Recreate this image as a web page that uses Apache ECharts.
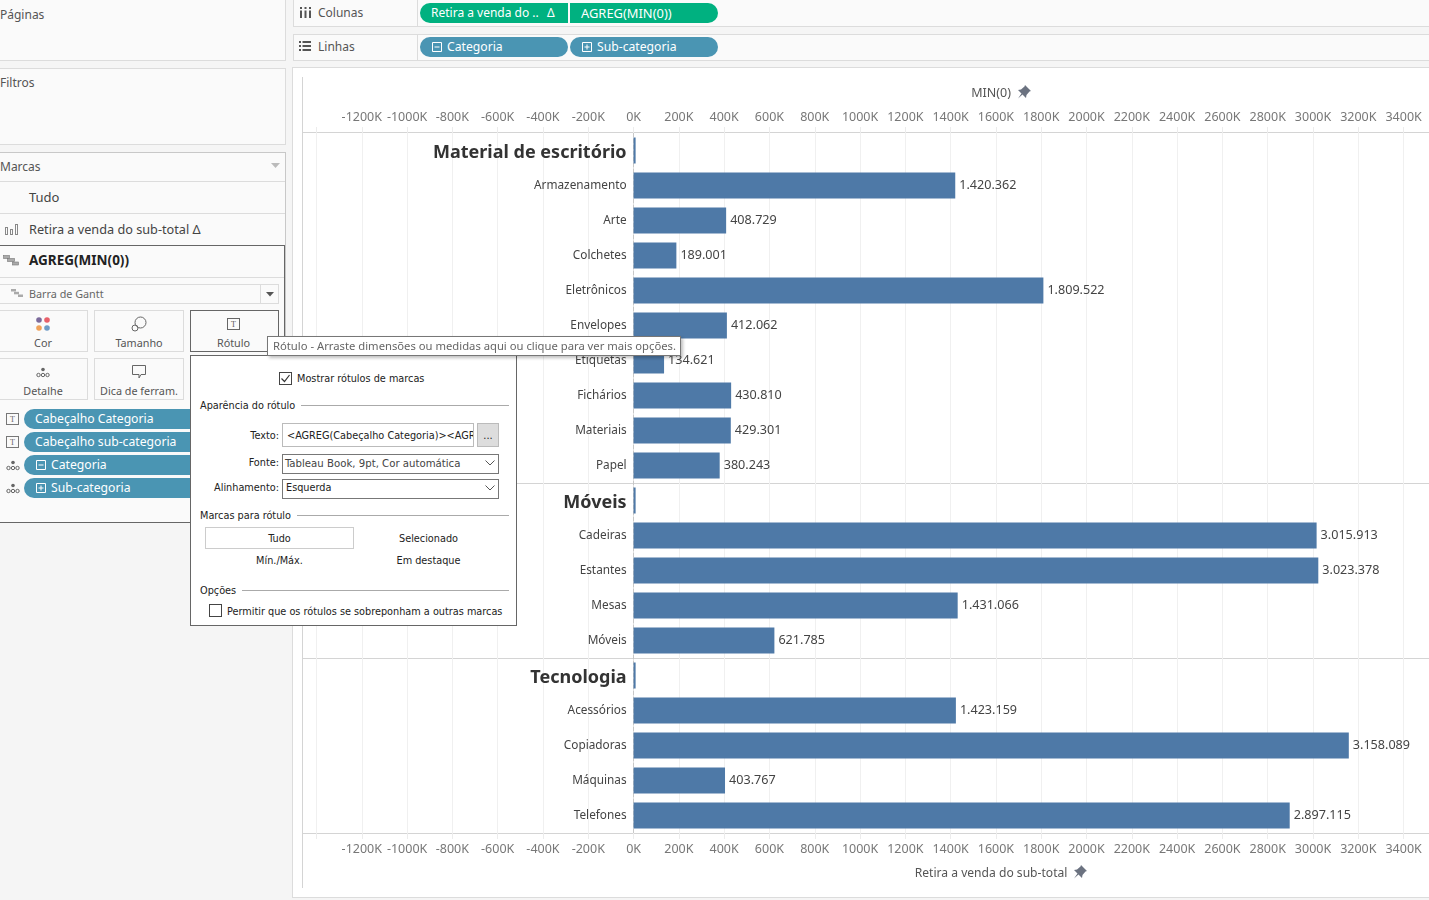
<!DOCTYPE html>
<html>
<head>
<meta charset="utf-8">
<style>
  html, body { margin: 0; padding: 0; width: 1429px; height: 900px; overflow: hidden; background: #f5f5f5; }
  body { font-family: "Noto Sans", sans-serif; font-size: 12px; color: #555; position: relative; }
  .box, .t, .pill, .ln, svg.ic { position: absolute; box-sizing: border-box; }
  .box { background: #fafafa; border: 1px solid #dcdcdc; }
  .t { white-space: nowrap; line-height: 16px; height: 16px; }
  .ln { background: #dcdcdc; }
  .pill { background: #4a95b3; color: #fff; height: 20px; line-height: 20px; border-radius: 10px; white-space: nowrap; font-size: 12.2px; padding-left: 11px; }
  .green { background: #00b180; }
  .card { font-size: 10.8px; text-align: center; }
  .dlg { font-family: "DejaVu Sans Condensed", sans-serif; font-size: 10.8px; color: #222; }
  #main { position: absolute; left: 0; top: 0; width: 1429px; height: 900px; z-index: 2; }
  #over { position: absolute; left: 0; top: 0; width: 1429px; height: 900px; z-index: 3; }
</style>
<script src="https://cdn.jsdelivr.net/npm/echarts@6/dist/echarts.min.js"></script>
</head>
<body>

<!-- shelves and left cards -->
<div class="box" style="left:-2px;top:-2px;width:288px;height:63px"></div>
<div class="box" style="left:-2px;top:68px;width:288px;height:77px"></div>
<div class="box" style="left:-2px;top:152px;width:288px;height:371px;border-color:#c8c8c8"></div>
<div class="t" style="left:0;top:7px">Páginas</div>
<div class="t" style="left:0;top:75px">Filtros</div>
<div class="t" style="left:0;top:159px">Marcas</div>
<svg class="ic" style="left:271px;top:163px" width="9" height="6"><path d="M0 0H9L4.5 5z" fill="#bbb"/></svg>
<div class="ln" style="left:0;top:181px;width:285px;height:1px"></div>
<div class="t" style="left:29px;top:189px;font-size:13px;color:#444">Tudo</div>
<div class="ln" style="left:0;top:213px;width:285px;height:1px"></div>
<svg class="ic" style="left:5px;top:224px" width="13" height="11"><g fill="none" stroke="#888"><rect x=".5" y="3.5" width="2" height="7"/><rect x="5.5" y="5.5" width="2" height="5"/><rect x="10.5" y=".5" width="2" height="10"/></g></svg>
<div class="t" style="left:29px;top:221px;font-size:12.7px;color:#444">Retira a venda do sub-total Δ</div>
<div class="box" style="left:-2px;top:245px;width:287px;height:278px;border:1px solid #666"></div>
<svg class="ic" style="left:3px;top:255px" width="16" height="11"><g fill="#aaa" stroke="#777" stroke-width=".6"><rect x=".5" y=".5" width="6" height="3"/><rect x="4.5" y="3.5" width="7" height="3"/><rect x="9.5" y="7" width="6" height="3"/></g></svg>
<div class="t" style="left:29px;top:252px;font-size:13.5px;font-weight:700;color:#222">AGREG(MIN(0))</div>
<div class="ln" style="left:0;top:277px;width:284px;height:1px"></div>
<div class="box" style="left:-2px;top:284px;width:281px;height:20px"></div>
<div class="ln" style="left:260px;top:285px;width:1px;height:18px"></div>
<svg class="ic" style="left:11px;top:289px" width="12" height="8"><g fill="#aaa"><rect x="0" y="0" width="5" height="2.5"/><rect x="3" y="2.8" width="5" height="2.5"/><rect x="7" y="5.5" width="5" height="2.5"/></g></svg>
<div class="t" style="left:29px;top:286px;font-size:10.8px;color:#666">Barra de Gantt</div>
<svg class="ic" style="left:266px;top:292px" width="8" height="5"><path d="M0 0H8L4 4.5z" fill="#555"/></svg>

<!-- mark cards -->
<div class="box" style="left:-2px;top:310px;width:90px;height:42px"></div>
<div class="box" style="left:94px;top:310px;width:90px;height:42px"></div>
<div class="box" style="left:190px;top:310px;width:89px;height:42px;border-color:#666"></div>
<div class="box" style="left:-2px;top:358px;width:90px;height:42px"></div>
<div class="box" style="left:94px;top:358px;width:90px;height:42px"></div>
<svg class="ic" style="left:36px;top:317px" width="15" height="15"><circle cx="3" cy="3" r="2.8" fill="#7b6a9b"/><circle cx="11" cy="3" r="2.8" fill="#e8606a"/><circle cx="3" cy="11" r="2.8" fill="#f0a25a"/><circle cx="11" cy="11" r="2.8" fill="#6f9cc7"/></svg>
<svg class="ic" style="left:131px;top:316px" width="16" height="16"><g fill="none" stroke="#666"><circle cx="9.5" cy="6.5" r="5.5"/><circle cx="4" cy="12" r="3"/></g></svg>
<svg class="ic" style="left:227px;top:318px" width="13" height="12"><rect x=".5" y=".5" width="12" height="11" fill="none" stroke="#666"/><text x="6.5" y="9" font-size="8" text-anchor="middle" fill="#555" font-family="Liberation Serif">T</text></svg>
<svg class="ic" style="left:36px;top:367px" width="14" height="11"><g fill="none" stroke="#666"><circle cx="2.5" cy="8" r="1.7"/><circle cx="7" cy="8" r="1.7"/><circle cx="11.5" cy="8" r="1.7"/></g><circle cx="7" cy="2.5" r="1.8" fill="#666"/></svg>
<svg class="ic" style="left:132px;top:365px" width="15" height="15"><path d="M.5 .5H13.5V9.5H9L7 13V9.5H.5z" fill="none" stroke="#666"/></svg>
<div class="t card" style="left:0;top:335px;width:86px">Cor</div>
<div class="t card" style="left:94px;top:335px;width:90px">Tamanho</div>
<div class="t card" style="left:190px;top:335px;width:87px">Rótulo</div>
<div class="t card" style="left:0;top:383px;width:86px">Detalhe</div>
<div class="t card" style="left:94px;top:383px;width:90px">Dica de ferram.</div>

<!-- encoding pills -->
<svg class="ic" style="left:6px;top:413px" width="13" height="12"><rect x=".5" y=".5" width="12" height="11" fill="none" stroke="#777"/><text x="6.5" y="9" font-size="8" text-anchor="middle" fill="#666" font-family="Liberation Serif">T</text></svg>
<svg class="ic" style="left:6px;top:436px" width="13" height="12"><rect x=".5" y=".5" width="12" height="11" fill="none" stroke="#777"/><text x="6.5" y="9" font-size="8" text-anchor="middle" fill="#666" font-family="Liberation Serif">T</text></svg>
<svg class="ic" style="left:6px;top:460px" width="14" height="11"><g fill="none" stroke="#666"><circle cx="2.5" cy="8" r="1.7"/><circle cx="7" cy="8" r="1.7"/><circle cx="11.5" cy="8" r="1.7"/></g><circle cx="7" cy="2.5" r="1.8" fill="#666"/></svg>
<svg class="ic" style="left:6px;top:483px" width="14" height="11"><g fill="none" stroke="#666"><circle cx="2.5" cy="8" r="1.7"/><circle cx="7" cy="8" r="1.7"/><circle cx="11.5" cy="8" r="1.7"/></g><circle cx="7" cy="2.5" r="1.8" fill="#666"/></svg>
<div class="pill" style="left:24px;top:409px;width:180px">Cabeçalho Categoria</div>
<div class="pill" style="left:24px;top:432px;width:180px">Cabeçalho sub-categoria</div>
<div class="pill" style="left:24px;top:455px;width:180px;padding-left:27px">Categoria<svg class="ic" style="left:12px;top:5px" width="10" height="10"><path d="M.5 .5H9.5V9.5H.5zM2.5 5H7.5" fill="none" stroke="#fff"/></svg></div>
<div class="pill" style="left:24px;top:478px;width:180px;padding-left:27px">Sub-categoria<svg class="ic" style="left:12px;top:5px" width="10" height="10"><path d="M.5 .5H9.5V9.5H.5zM2.5 5H7.5M5 2.5V7.5" fill="none" stroke="#fff"/></svg></div>

<!-- Colunas / Linhas shelves -->
<div class="box" style="left:293px;top:-2px;width:1140px;height:29px"></div>
<div class="box" style="left:293px;top:34px;width:1140px;height:27px"></div>
<div class="ln" style="left:417px;top:0;width:1px;height:26px"></div>
<div class="ln" style="left:417px;top:35px;width:1px;height:25px"></div>
<svg class="ic" style="left:300px;top:7px" width="11" height="11"><path d="M0 0H2V2H0zM4.5 0H6.5V2H4.5zM9 0H11V2H9zM0 3.5H2V11H0zM4.5 3.5H6.5V11H4.5zM9 3.5H11V11H9z" fill="#555"/></svg>
<svg class="ic" style="left:299px;top:41px" width="12" height="10"><path d="M0 0H2V2H0zM3.5 0H12V2H3.5zM0 4H2V6H0zM3.5 4H12V6H3.5zM0 8H2V10H0zM3.5 8H12V10H3.5z" fill="#555"/></svg>
<div class="t" style="left:318px;top:5px">Colunas</div>
<div class="t" style="left:318px;top:39px">Linhas</div>
<div class="pill green" style="left:420px;top:3px;width:148px;border-radius:10px 0 0 10px;font-size:12px">Retira a venda do ..<span style="position:absolute;left:127px">Δ</span></div>
<div class="pill green" style="left:570px;top:3px;width:148px;border-radius:0 10px 10px 0;font-size:12.9px">AGREG(MIN(0))</div>
<div class="pill" style="left:420px;top:37px;width:148px;padding-left:27px">Categoria<svg class="ic" style="left:12px;top:5px" width="10" height="10"><path d="M.5 .5H9.5V9.5H.5zM2.5 5H7.5" fill="none" stroke="#fff"/></svg></div>
<div class="pill" style="left:570px;top:37px;width:148px;padding-left:27px">Sub-categoria<svg class="ic" style="left:12px;top:5px" width="10" height="10"><path d="M.5 .5H9.5V9.5H.5zM2.5 5H7.5M5 2.5V7.5" fill="none" stroke="#fff"/></svg></div>

<!-- view card, pane lines -->
<div class="box" style="left:292px;top:67px;width:1140px;height:831px;background:#fff"></div>
<div class="ln" style="left:302px;top:77px;width:1px;height:811px;background:#d4d4d4"></div>
<div class="ln" style="left:303px;top:132px;width:1126px;height:1px;background:#d4d4d4"></div>
<div class="ln" style="left:303px;top:483px;width:1126px;height:1px;background:#d4d4d4"></div>
<div class="ln" style="left:303px;top:658px;width:1126px;height:1px;background:#d4d4d4"></div>
<div class="ln" style="left:303px;top:833px;width:1126px;height:1px;background:#d4d4d4"></div>

<div id="main"></div>

<div id="over">
  <svg class="ic" style="left:1017px;top:85px" width="14" height="14"><path d="M8 0L14 6L12.5 6.5L9.5 10L9 13L5.5 9.5L1 13.5L4.5 8.5L1 5L4 4.5L7.5 1.5z" fill="#6b7280"/></svg>
  <svg class="ic" style="left:1073px;top:865px" width="14" height="14"><path d="M8 0L14 6L12.5 6.5L9.5 10L9 13L5.5 9.5L1 13.5L4.5 8.5L1 5L4 4.5L7.5 1.5z" fill="#6b7280"/></svg>

  <!-- label dialog -->
  <div class="box dlg" style="left:190px;top:355px;width:327px;height:271px;background:#fff;border-color:#666"></div>
  <div class="dlg">
    <div class="box" style="left:279px;top:372px;width:13px;height:13px;background:#fff;border-color:#444"></div>
    <svg class="ic" style="left:280px;top:373px" width="11" height="11"><path d="M1.5 5.5L4.5 8.5L9.5 2" fill="none" stroke="#333" stroke-width="1.2"/></svg>
    <div class="t" style="left:297px;top:371px">Mostrar rótulos de marcas</div>
    <div class="t" style="left:200px;top:398px">Aparência do rótulo</div>
    <div class="ln" style="left:301px;top:405px;width:208px;height:1px;background:#aaa"></div>
    <div class="t" style="left:190px;top:428px;width:89px;text-align:right">Texto:</div>
    <div class="box" style="left:282px;top:423px;width:192px;height:24px;background:#fff;border-color:#bbb;overflow:hidden">
      <div class="t" style="left:4px;top:4px">&lt;AGREG(Cabeçalho Categoria)&gt;&lt;AGR</div>
    </div>
    <div class="box" style="left:477px;top:423px;width:22px;height:24px;background:#ddd;border-color:#bbb"></div>
    <div class="t" style="left:477px;top:428px;width:22px;text-align:center">...</div>
    <div class="t" style="left:190px;top:455px;width:89px;text-align:right">Fonte:</div>
    <div class="box" style="left:282px;top:454px;width:217px;height:20px;background:#fff;border-color:#777"></div>
    <div class="t" style="left:285px;top:456px;color:#444;font-size:11.3px">Tableau Book, 9pt, Cor automática</div>
    <svg class="ic" style="left:485px;top:460px" width="10" height="7"><path d="M.5 .5L5 5L9.5 .5" fill="none" stroke="#555"/></svg>
    <div class="t" style="left:190px;top:480px;width:89px;text-align:right">Alinhamento:</div>
    <div class="box" style="left:282px;top:479px;width:217px;height:20px;background:#fff;border-color:#777"></div>
    <div class="t" style="left:286px;top:480px">Esquerda</div>
    <svg class="ic" style="left:485px;top:485px" width="10" height="7"><path d="M.5 .5L5 5L9.5 .5" fill="none" stroke="#555"/></svg>
    <div class="t" style="left:200px;top:508px">Marcas para rótulo</div>
    <div class="ln" style="left:297px;top:515px;width:212px;height:1px;background:#aaa"></div>
    <div class="box" style="left:205px;top:527px;width:149px;height:22px;background:#fff;border-color:#ccc"></div>
    <div class="t" style="left:205px;top:531px;width:149px;text-align:center">Tudo</div>
    <div class="t" style="left:354px;top:531px;width:149px;text-align:center">Selecionado</div>
    <div class="t" style="left:205px;top:553px;width:149px;text-align:center">Mín./Máx.</div>
    <div class="t" style="left:354px;top:553px;width:149px;text-align:center">Em destaque</div>
    <div class="t" style="left:200px;top:583px">Opções</div>
    <div class="ln" style="left:242px;top:590px;width:267px;height:1px;background:#aaa"></div>
    <div class="box" style="left:209px;top:604px;width:13px;height:13px;background:#fff;border-color:#444"></div>
    <div class="t" style="left:227px;top:604px">Permitir que os rótulos se sobreponham a outras marcas</div>
  </div>

  <!-- hover tooltip on the Rótulo card -->
  <div class="box" style="left:267px;top:336px;width:414px;height:20px;background:#fff;border-color:#777;box-shadow:2px 2px 3px rgba(0,0,0,.25);line-height:18px;padding-left:5px;white-space:nowrap;color:#666;font-size:11.25px">Rótulo - Arraste dimensões ou medidas aqui ou clique para ver mais opções.</div>
</div>

<script>
// rows top to bottom, a category header row comes before its sub-categories
var categories = ['Material de escritório', 'Armazenamento', 'Arte', 'Colchetes', 'Eletrônicos', 'Envelopes', 'Etiquetas', 'Fichários', 'Materiais', 'Papel',
  'Móveis', 'Cadeiras', 'Estantes', 'Mesas', 'Móveis',
  'Tecnologia', 'Acessórios', 'Copiadoras', 'Máquinas', 'Telefones'];
var sales = [null, 1420362, 408729, 189001, 1809522, 412062, 134621, 430810, 429301, 380243,
  null, 3015913, 3023378, 1431066, 621785,
  null, 1423159, 3158089, 403767, 2897115];
// the little Gantt sliver drawn on the header rows
var headerSliver = [9000, null, null, null, null, null, null, null, null, null,
  9000, null, null, null, null,
  9000, null, null, null, null];

var FONT = '"Noto Sans", sans-serif';

function fmtPt(v) {
  return String(v).replace(/\B(?=(\d{3})+(?!\d))/g, '.');
}
function fmtK(v) {
  // no room for the first tick label in the pane
  if (v == -1400000) return '';
  return (v / 1000) + 'K';
}

var valueAxis = {
  type: 'value',
  min: -1400000,
  max: 3400000,
  interval: 200000,
  nameLocation: 'middle',
  axisLine: { show: false },
  axisTick: { show: true, length: 6, lineStyle: { color: '#ececec' } },
  splitLine: { show: true, lineStyle: { color: '#f0f0f0', width: 1 } }
};

var chart = echarts.init(document.getElementById('main'), null, { renderer: 'canvas' });
chart.setOption({
  animation: false,
  backgroundColor: 'transparent',
  grid: { left: 316.5, right: 25.4, top: 133, height: 700 },
  xAxis: [
    Object.assign({}, valueAxis, {
      position: 'bottom',
      name: 'Retira a venda do sub-total',
      nameGap: 35,
      nameTextStyle: { color: '#555', fontSize: 12.1, fontFamily: FONT, padding: [0, 0, 0, 262] },
      axisLabel: { color: '#777', fontSize: 12.5, fontFamily: FONT, margin: 10, formatter: fmtK }
    }),
    Object.assign({}, valueAxis, {
      position: 'top',
      name: 'MIN(0)',
      nameGap: 33,
      nameTextStyle: { color: '#555', fontSize: 12.5, fontFamily: FONT, padding: [0, 0, 0, 262] },
      axisLabel: { color: '#777', fontSize: 12.5, fontFamily: FONT, margin: 9, formatter: fmtK }
    })
  ],
  yAxis: {
    type: 'category',
    data: categories,
    inverse: true,
    // sits on the 0K tick, onZero leaves the labels at the pane edge
    offset: -317.1,
    axisLine: { show: true, onZero: false, lineStyle: { color: '#c8c8c8', type: 'dashed', width: 1 } },
    axisTick: { show: false },
    splitLine: { show: false },
    axisLabel: {
      interval: 0,
      margin: 7,
      color: '#444',
      fontSize: 11.8,
      fontFamily: FONT,
      formatter: function (v, i) {
        return sales[i] == null ? '{head|' + v + '}' : v;
      },
      rich: { head: { fontSize: 18, fontWeight: 700, color: '#333', fontFamily: FONT, padding: [4, 0, 0, 0] } }
    }
  },
  series: [
    {
      name: 'Retira a venda do sub-total',
      type: 'bar',
      xAxisIndex: 0,
      data: sales,
      barWidth: 26,
      barGap: '-100%',
      itemStyle: { color: '#4e79a7' },
      label: {
        show: true,
        position: 'right',
        distance: 4,
        color: '#444',
        fontSize: 12.6,
        fontFamily: FONT,
        formatter: function (p) { return fmtPt(p.value); }
      }
    },
    {
      name: 'AGREG(MIN(0))',
      type: 'bar',
      xAxisIndex: 1,
      data: headerSliver,
      barWidth: 26,
      itemStyle: { color: '#4e79a7' }
    }
  ]
});
</script>
</body>
</html>
